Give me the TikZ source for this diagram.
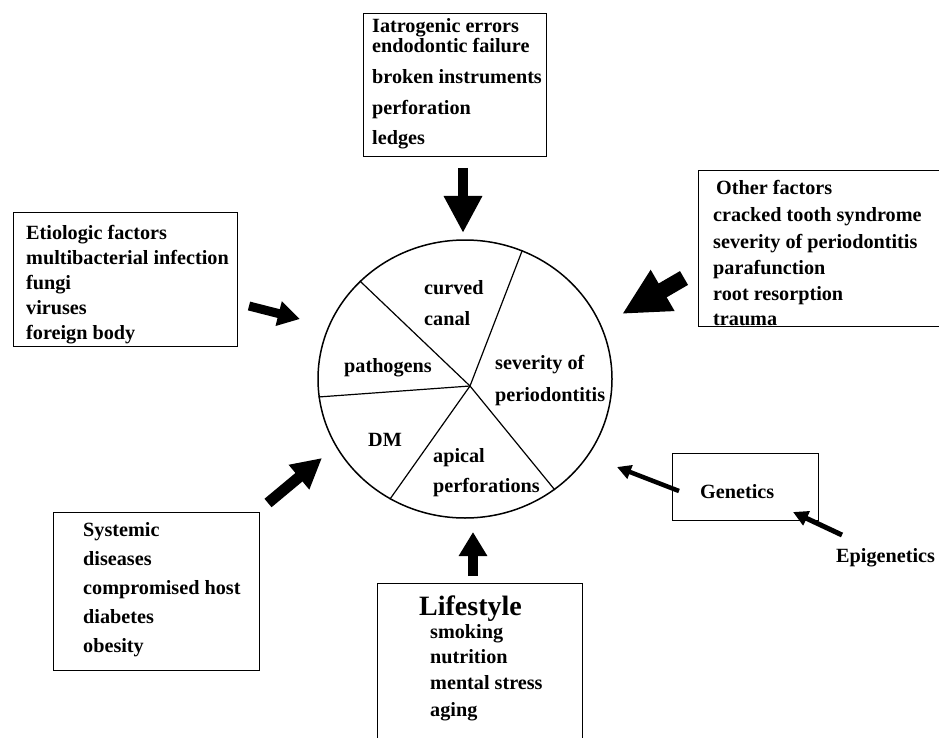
\documentclass[tikz,border=0pt]{standalone}
\usepackage{fontspec}
\setmainfont{Liberation Serif}
\usetikzlibrary{positioning,arrows.meta,shapes.geometric}

\begin{document}
\begin{tikzpicture}[x=1pt,y=-1pt,
    every node/.style={font=\fontsize{20.2}{27}\selectfont\bfseries,inner sep=0pt},
    box/.style={draw,line width=1.3pt,anchor=north west},
    item/.style={anchor=base west},
    slice/.style={anchor=west,align=left},
    push/.style n args={3}{line width=#1pt,-{Triangle[width=#2pt,length=#3pt]}}]
  \useasboundingbox (0,0) rectangle (939,738);

  % pie in the middle
  \node[draw,ellipse,line width=1.5pt,minimum width=294pt,minimum height=278pt] (pie) at (465,379) {};
  \coordinate (hub) at (470,386);
  \foreach \a in {137,66,187.5,238.3,309.5} \draw[line width=1.2pt] (hub) -- (pie.\a);
  \node[slice] (canal) at (424,303) {curved\\[4pt]canal};
  \node[slice] (patho) at (344,368) {pathogens};
  \node[slice] (sever) at (495,381) {severity of\\[5pt]periodontitis};
  \node[slice] (dm)    at (368,440) {DM};
  \node[slice] (apic)  at (433,473) {apical\\[3pt]perforations};

  % boxes round it
  \node[box,minimum width=183pt,minimum height=143pt] (iat) at (363,13) {};
  \foreach \t/\yy [count=\i] in {Iatrogenic errors/33,endodontic failure/53,broken instruments/84,perforation/115,ledges/145}
    \node[item] (iat-\i) at (372,\yy) {\t};

  \node[box,minimum width=270pt,minimum height=156pt] (other) at (698,170) {};
  \node[item] (other-0) at (716,195) {Other factors};
  \foreach \t/\yy [count=\i] in {cracked tooth syndrome/222,severity of periodontitis/248,parafunction/274,root resorption/300,trauma/325}
    \node[item] (other-\i) at (713,\yy) {\t};

  \node[box,minimum width=224pt,minimum height=134pt] (etio) at (13,212) {};
  \foreach \t/\yy [count=\i] in {Etiologic factors/239,multibacterial infection/264,fungi/289,viruses/314,foreign body/339}
    \node[item] (etio-\i) at (26,\yy) {\t};

  \node[box,minimum width=206pt,minimum height=158pt] (sys) at (53,512) {};
  \foreach \t/\yy [count=\i] in {Systemic/536,diseases/565,compromised host/594,diabetes/623,obesity/652}
    \node[item] (sys-\i) at (83,\yy) {\t};

  \node[box,minimum width=205pt,minimum height=200pt] (life) at (377,583) {};
  \node[item,font=\fontsize{28}{30}\selectfont\bfseries] (life-0) at (419,615) {Lifestyle};
  \foreach \t/\yy [count=\i] in {smoking/638,nutrition/663,mental stress/689,aging/716}
    \node[item] (life-\i) at (430,\yy) {\t};

  \node[box,minimum width=146pt,minimum height=67pt] (gen) at (672,453) {};
  \node[item] (gen-t) at (700,498) {Genetics};
  \node[item] (epi) at (836,562) {Epigenetics};

  % arrows pointing at the pie
  \coordinate (iat-a) at (463,168);   \coordinate (iat-b) at (463,233);
  \coordinate (other-a) at (684,278); \coordinate (other-b) at (622,314);
  \coordinate (etio-a) at (249,306);  \coordinate (etio-b) at (300,319);
  \coordinate (sys-a) at (268,503);   \coordinate (sys-b) at (322,458);
  \coordinate (life-a) at (473,576);  \coordinate (life-b) at (473,532);
  \coordinate (gen-a) at (679,491);   \coordinate (gen-b) at (617,467);
  \coordinate (epi-a) at (842,535);   \coordinate (epi-b) at (793,512);
  \draw[push={10}{36}{37}] (iat-a) -- (iat-b);
  \draw[push={16}{44}{47}] (other-a) -- (other-b);
  \draw[push={9}{24}{22}] (etio-a) -- (etio-b);
  \draw[push={11}{30}{30}] (sys-a) -- (sys-b);
  \draw[push={10}{27}{24}] (life-a) -- (life-b);
  \draw[push={4.5}{14}{14}] (gen-a) -- (gen-b);
  \draw[push={5}{15}{15}] (epi-a) -- (epi-b);
\end{tikzpicture}
\end{document}
